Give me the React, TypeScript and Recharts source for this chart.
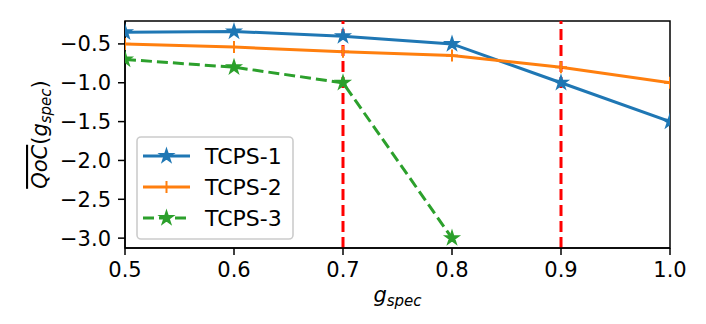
import React from 'react';
import { LineChart, Line, XAxis, YAxis, ReferenceLine, ReferenceArea, Legend } from 'recharts';

// g_spec values on the x axis
const G_SPEC = [0.5, 0.6, 0.7, 0.8, 0.9, 1.0];
// mean QoC per system
const TCPS_1 = [-0.35, -0.34, -0.4, -0.5, -1.0, -1.5];
const TCPS_2 = [-0.5, -0.54, -0.6, -0.65, -0.8, -1.0];
const TCPS_3 = [-0.7, -0.8, -1.0, -3.0, null, null];

const X_TICKS = [0.5, 0.6, 0.7, 0.8, 0.9, 1.0];
const Y_TICKS = [-3.0, -2.5, -2.0, -1.5, -1.0, -0.5];
const THRESHOLDS = [0.7, 0.9];

const X_DOMAIN: [number, number] = [0.5, 1.0];
const Y_DOMAIN: [number, number] = [-3.127, -0.205];

const FONT = 'DejaVu Sans';
const DASH = '11 5';

const SERIES = [
  { key: 's1', name: 'TCPS-1', color: '#1f77b4', marker: 'star', dash: undefined },
  { key: 's2', name: 'TCPS-2', color: '#ff7f0e', marker: 'plus', dash: undefined },
  { key: 's3', name: 'TCPS-3', color: '#2ca02c', marker: 'star', dash: DASH },
];

const data = G_SPEC.map((x, i) => ({ x, s1: TCPS_1[i], s2: TCPS_2[i], s3: TCPS_3[i] }));

// 5 point star like matplotlib's '*' marker
const starPoints = (cx: number, cy: number, R: number) => {
  const r = R * 0.381966;
  const pts: string[] = [];
  for (let k = 0; k < 10; k++) {
    const rad = k % 2 === 0 ? R : r;
    const a = -Math.PI / 2 + (k * Math.PI) / 5;
    pts.push(`${cx + rad * Math.cos(a)},${cy + rad * Math.sin(a)}`);
  }
  return pts.join(' ');
};

const Marker = ({ cx, cy, type, color }: { cx: number; cy: number; type: string; color: string }) => {
  if (type === 'plus') {
    return (
      <g>
        <line x1={cx - 6} y1={cy} x2={cx + 6} y2={cy} stroke={color} strokeWidth={2} />
        <line x1={cx} y1={cy - 6} x2={cx} y2={cy + 6} stroke={color} strokeWidth={2} />
      </g>
    );
  }
  return <polygon points={starPoints(cx, cy, 6.3)} fill={color} stroke={color} strokeWidth={2} strokeLinejoin="miter" />;
};

const makeDot = (type: string, color: string) => (props: any) => {
  const { cx, cy, index, value } = props;
  if (value == null || cx == null || cy == null) return <g key={`d-${index}`} />;
  return (
    <g key={`d-${index}`}>
      <Marker cx={cx} cy={cy} type={type} color={color} />
    </g>
  );
};

const fmtY = (v: number) => v.toFixed(1).replace('-', '\u2212');
const fmtX = (v: number) => v.toFixed(1);

const LegendBox = () => (
  <svg width={158} height={104} style={{ display: 'block' }}>
    <rect x={1} y={1} width={156} height={102} rx={4} ry={4} fill="#fff" fillOpacity={0.8} stroke="#cccccc" strokeWidth={1.6} />
    {SERIES.map((s, i) => {
      const y = 20 + i * 31;
      return (
        <g key={s.key}>
          <line x1={7} y1={y} x2={54} y2={y} stroke={s.color} strokeWidth={3} strokeDasharray={s.dash} />
          <Marker cx={30.5} cy={y} type={s.marker} color={s.color} />
          <text x={69} y={y} dy="0.36em" fontSize={22} fontFamily={FONT} fill="#000">
            {s.name}
          </text>
        </g>
      );
    })}
  </svg>
);

const YLabel = () => (
  <text
    x={39}
    y={126.5}
    transform="rotate(-90, 39, 126.5)"
    textAnchor="middle"
    fontSize={21}
    fontFamily={FONT}
    fill="#000"
  >
    <tspan fontStyle="italic" textDecoration="overline">QoC</tspan>
    <tspan>(</tspan>
    <tspan fontStyle="italic">g</tspan>
    <tspan fontStyle="italic" fontSize={15} dy={4}>spec</tspan>
    <tspan dy={-4}>)</tspan>
  </text>
);

const XLabel = () => (
  <text x={389.5} y={294} textAnchor="middle" fontSize={21} fontFamily={FONT} fontStyle="italic" fill="#000">
    <tspan>g</tspan>
    <tspan fontSize={15} dy={4}>spec</tspan>
  </text>
);

const App: React.FC = () => {
  const tick = { fill: '#000', fontSize: 21, fontFamily: FONT };
  return (
    <LineChart width={698} height={316} data={data} margin={{ top: 13, right: 36, bottom: 0, left: 0 }}>
      <ReferenceArea
        x1={X_DOMAIN[0]}
        x2={X_DOMAIN[1]}
        y1={Y_DOMAIN[0]}
        y2={Y_DOMAIN[1]}
        fill="none"
        stroke="#000"
        strokeWidth={1.5}
        ifOverflow="visible"
      />
      <XAxis
        dataKey="x"
        type="number"
        domain={X_DOMAIN}
        ticks={X_TICKS}
        tickFormatter={fmtX}
        allowDataOverflow
        height={76}
        tick={tick}
        tickSize={7}
        tickMargin={7}
        axisLine={{ stroke: '#000', strokeWidth: 1.5 }}
        tickLine={{ stroke: '#000', strokeWidth: 1.5 }}
        label={{ content: () => <XLabel /> }}
      />
      <YAxis
        type="number"
        domain={Y_DOMAIN}
        ticks={Y_TICKS}
        tickFormatter={fmtY}
        allowDataOverflow
        width={117}
        tick={tick}
        tickSize={7}
        tickMargin={7}
        axisLine={{ stroke: '#000', strokeWidth: 1.5 }}
        tickLine={{ stroke: '#000', strokeWidth: 1.5 }}
        label={{ content: () => <YLabel /> }}
      />
      {SERIES.map((s) => (
        <Line
          key={s.key}
          dataKey={s.key}
          name={s.name}
          stroke={s.color}
          strokeWidth={3}
          strokeDasharray={s.dash}
          dot={makeDot(s.marker, s.color)}
          activeDot={false}
          connectNulls={false}
          isAnimationActive={false}
        />
      ))}
      {THRESHOLDS.map((t) => (
        <ReferenceLine key={t} x={t} stroke="#ff0000" strokeWidth={3} strokeDasharray={DASH} />
      ))}
      <Legend
        layout="horizontal"
        verticalAlign="middle"
        align="center"
        wrapperStyle={{ left: 128, top: 128, width: 158, height: 104 }}
        content={() => <LegendBox />}
      />
    </LineChart>
  );
};

export default App;
